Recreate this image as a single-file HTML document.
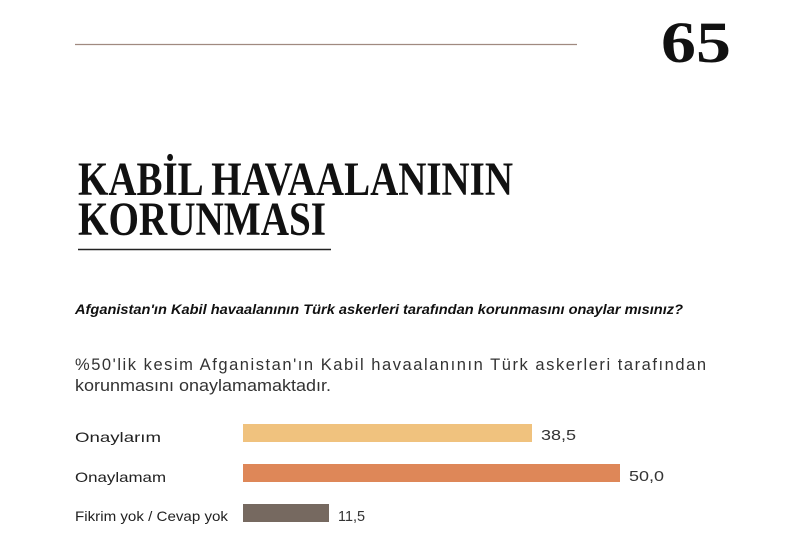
<!DOCTYPE html>
<html><head><meta charset="utf-8"><style>
html,body{margin:0;padding:0;background:#fff;width:805px;height:538px;overflow:hidden}
svg{display:block}
</style></head><body>
<svg width="805" height="538" viewBox="0 0 805 538" xmlns="http://www.w3.org/2000/svg">
<rect width="805" height="538" fill="#fff"/>
<line x1="75" y1="44.5" x2="577" y2="44.5" stroke="#a08a80" stroke-width="1.2"/>
<text x="661" y="62" font-family="Liberation Serif, serif" font-weight="bold" font-size="58" fill="#111" textLength="70" lengthAdjust="spacingAndGlyphs">65</text>
<text x="78" y="195" font-family="Liberation Serif, serif" font-weight="bold" font-size="48" fill="#111" textLength="435" lengthAdjust="spacingAndGlyphs">KABİL HAVAALANININ</text>
<text x="78" y="235" font-family="Liberation Serif, serif" font-weight="bold" font-size="48" fill="#111" textLength="248" lengthAdjust="spacingAndGlyphs">KORUNMASI</text>
<line x1="78" y1="249.5" x2="331" y2="249.5" stroke="#222" stroke-width="1.5"/>
<text x="75" y="314" font-family="Liberation Sans, sans-serif" font-weight="bold" font-style="italic" font-size="14" fill="#111" textLength="608" lengthAdjust="spacingAndGlyphs">Afganistan'ın Kabil havaalanının Türk askerleri tarafından korunmasını onaylar mısınız?</text>
<text x="75" y="370" font-family="Liberation Sans, sans-serif" font-size="16.5" fill="#333" textLength="631" lengthAdjust="spacing">%50'lik kesim Afganistan'ın Kabil havaalanının Türk askerleri tarafından</text>
<text x="75" y="391" font-family="Liberation Sans, sans-serif" font-size="16.5" fill="#333" textLength="256" lengthAdjust="spacingAndGlyphs">korunmasını onaylamamaktadır.</text>
<g font-family="Liberation Sans, sans-serif" font-size="14" fill="#222">
<text x="75" y="442" textLength="86" lengthAdjust="spacingAndGlyphs">Onaylarım</text>
<text x="75" y="482" textLength="91" lengthAdjust="spacingAndGlyphs">Onaylamam</text>
<text x="75" y="521" textLength="153" lengthAdjust="spacingAndGlyphs">Fikrim yok / Cevap yok</text>
</g>
<rect x="243" y="424" width="289" height="18" fill="#f0c27e"/>
<rect x="243" y="464" width="377" height="18" fill="#de8758"/>
<rect x="243" y="504" width="86" height="18" fill="#766960"/>
<g font-family="Liberation Sans, sans-serif" font-size="15" fill="#333">
<text x="541" y="440" textLength="35" lengthAdjust="spacingAndGlyphs">38,5</text>
<text x="629" y="481" textLength="35" lengthAdjust="spacingAndGlyphs">50,0</text>
<text x="338" y="521" textLength="27" lengthAdjust="spacingAndGlyphs">11,5</text>
</g>
</svg>
</body></html>
